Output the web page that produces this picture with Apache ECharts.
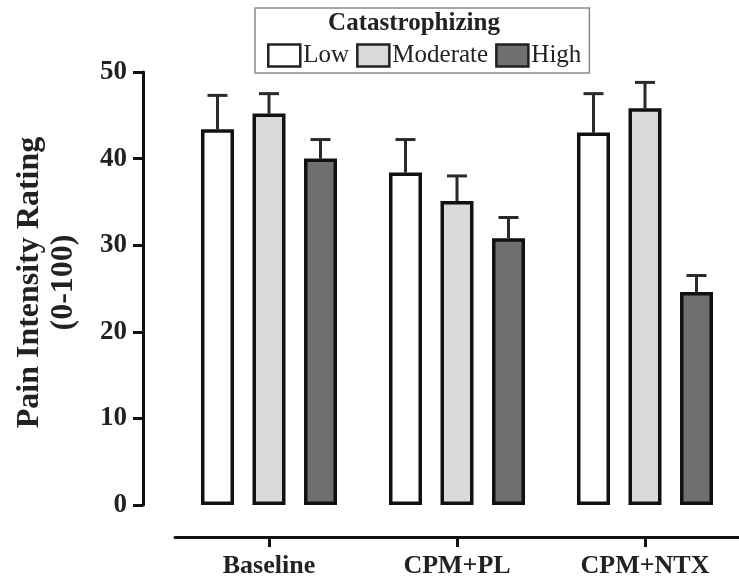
<!DOCTYPE html>
<html>
<head>
<meta charset="utf-8">
<script src="https://cdn.jsdelivr.net/npm/echarts@6/dist/echarts.min.js"></script>
<style>
  html, body { margin: 0; padding: 0; background: #fff; }
  #chart { width: 739px; height: 586px; }
</style>
</head>
<body>
<div id="chart"></div>
<script>
const categories = ["Baseline", "CPM+PL", "CPM+NTX"];
const levels = ["Low", "Moderate", "High"];
const lowMean = [43.4, 38.4, 43.0];
const lowErr = [3.9, 3.8, 4.5];
const modMean = [45.2, 35.1, 45.8];
const modErr = [2.3, 2.9, 3.0];
const highMean = [40.0, 30.8, 24.6];
const highErr = [2.2, 2.4, 1.9];
const yTicks = [0, 10, 20, 30, 40, 50];

const colors = ["#ffffff", "#d9d9d9", "#6f6f6f"];
const BAR_W = 33;
const BAR_GAP = 18.5;
const FONT = '"Liberation Serif", "Times New Roman", serif';

const means = [lowMean, modMean, highMean];
const errs = [lowErr, modErr, highErr];

// error bars (upper only), shifted to sit on their bar
function errRender(idx) {
  return function (params, api) {
    const c = api.value(0);
    const m = api.value(1);
    const e = api.value(2);
    const base = api.coord([c, m]);
    const top = api.coord([c, m + e]);
    const x = base[0] + (idx - 1) * (BAR_W + BAR_GAP);
    const style = { stroke: "#2a2a2a", lineWidth: 3 };
    return {
      type: "group",
      children: [
        { type: "line", shape: { x1: x, y1: base[1], x2: x, y2: top[1] }, style: style },
        { type: "line", shape: { x1: x - 10, y1: top[1], x2: x + 10, y2: top[1] }, style: style }
      ]
    };
  };
}

const barSeries = levels.map((name, i) => ({
  name: name,
  type: "bar",
  barWidth: BAR_W,
  barGap: (BAR_GAP / BAR_W * 100).toFixed(1) + "%",
  data: means[i],
  itemStyle: { color: colors[i], borderColor: "#111", borderWidth: 3.5 },
  z: 2
}));

const errSeries = levels.map((name, i) => ({
  type: "custom",
  renderItem: errRender(i),
  data: categories.map((c, j) => [j, means[i][j], errs[i][j]]),
  encode: { x: 0, y: 1 },
  z: 1,
  silent: true
}));

const chart = echarts.init(document.getElementById("chart"));
chart.setOption({
  animation: false,
  backgroundColor: "#fff",
  grid: { left: 175, top: 72, width: 567, bottom: 81 },
  legend: {
    data: levels,
    left: 255,
    top: 8,
    padding: [35, 8, 5, 12],
    itemGap: 7,
    itemWidth: 32,
    itemHeight: 22,
    icon: "rect",
    borderColor: "#8a8a8a",
    borderWidth: 1.5,
    itemStyle: { borderColor: "#222", borderWidth: 2.5 },
    textStyle: { fontFamily: FONT, fontSize: 25, color: "#222", padding: [0, 0, 0, -2] }
  },
  graphic: [{
    type: "text",
    x: 414,
    y: 24,
    style: {
      text: "Catastrophizing",
      font: "bold 25px " + FONT,
      fill: "#222",
      textAlign: "center",
      textVerticalAlign: "middle"
    }
  }],
  xAxis: {
    type: "category",
    data: categories,
    offset: 32,
    axisLine: { onZero: false, lineStyle: { color: "#111", width: 3 } },
    axisTick: { show: true, alignWithLabel: true, length: 10, lineStyle: { color: "#111", width: 3 } },
    axisLabel: { fontFamily: FONT, fontWeight: "bold", fontSize: 26, color: "#222", margin: 16 }
  },
  yAxis: {
    type: "value",
    min: 0,
    max: 50,
    interval: 10,
    offset: 32,
    name: "Pain Intensity Rating\n(0-100)",
    nameLocation: "middle",
    nameRotate: 90,
    nameGap: 62,
    nameTextStyle: { fontFamily: FONT, fontWeight: "bold", fontSize: 32, lineHeight: 34, color: "#222", padding: [0, 0, 0, 12] },
    splitLine: { show: false },
    axisLine: { show: true, lineStyle: { color: "#111", width: 3 } },
    axisTick: { show: true, length: 10, lineStyle: { color: "#111", width: 3 } },
    axisLabel: {
      fontFamily: FONT, fontWeight: "bold", fontSize: 27, color: "#222", margin: 16,
      formatter: (v) => (yTicks.includes(v) ? String(v) : "")
    }
  },
  series: barSeries.concat(errSeries)
});
</script>
</body>
</html>
